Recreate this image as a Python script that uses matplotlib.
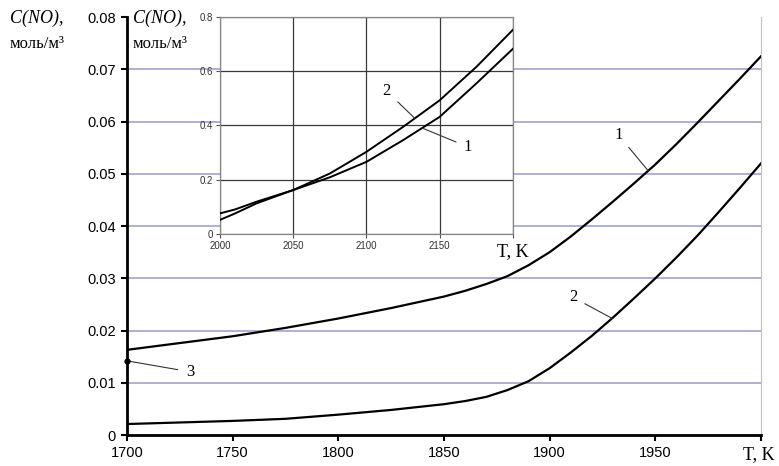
import numpy as np
import matplotlib.pyplot as plt

# main chart data, T in K, C(NO) in mol/m3
T_main = [1700, 1725, 1750, 1775, 1800, 1825, 1850, 1860, 1870, 1880, 1890,
          1900, 1910, 1920, 1930, 1940, 1950, 1960, 1970, 1980, 1990, 2000]
c1_main = [0.0163, 0.0176, 0.0189, 0.0205, 0.0223, 0.0243, 0.0265, 0.0276,
           0.0289, 0.0304, 0.0325, 0.0350, 0.0380, 0.0413, 0.0447, 0.0482,
           0.0518, 0.0557, 0.0598, 0.0640, 0.0682, 0.0725]
c2_main = [0.0021, 0.0024, 0.0027, 0.0031, 0.0039, 0.0048, 0.0059, 0.0065,
           0.0073, 0.0086, 0.0103, 0.0128, 0.0158, 0.0190, 0.0225, 0.0262,
           0.0300, 0.0340, 0.0382, 0.0427, 0.0473, 0.0520]
T3 = 1700
c3 = 0.0142

# inset data
T_ins = [2000, 2010, 2025, 2050, 2075, 2100, 2125, 2150, 2175, 2200]
c1_ins = [0.076, 0.090, 0.119, 0.162, 0.209, 0.266, 0.346, 0.432, 0.555, 0.683]
c2_ins = [0.052, 0.075, 0.113, 0.162, 0.223, 0.303, 0.395, 0.493, 0.616, 0.753]

xticks_main = [1700, 1750, 1800, 1850, 1900, 1950, 2000]
xlabels_main = ['1700', '1750', '1800', '1850', '1900', '1950', '']
yticks_main = [0, 0.01, 0.02, 0.03, 0.04, 0.05, 0.06, 0.07, 0.08]
ylabels_main = ['0', '0.01', '0.02', '0.03', '0.04', '0.05', '0.06', '0.07', '0.08']
xticks_ins = [2000, 2050, 2100, 2150, 2200]
xlabels_ins = ['2000', '2050', '2100', '2150', '']
yticks_ins = [0, 0.2, 0.4, 0.6, 0.8]
ylabels_ins = ['0', '0.2', '0.4', '0.6', '0.8']

serif = 'Liberation Serif'
sans = 'Liberation Sans'

fig = plt.figure(figsize=(7.79, 4.66), dpi=100)
ax = fig.add_axes([0.163, 0.0665, 0.814, 0.897])

for y in yticks_main[1:-1]:
    ax.axhline(y, color='#9a9ac4', lw=1.1, zorder=1)

ax.plot(T_main, c1_main, color='black', lw=1.6, zorder=3)
ax.plot(T_main, c2_main, color='black', lw=1.6, zorder=3)
ax.plot([T3], [c3], 'o', color='black', ms=3.5, zorder=4, clip_on=False)

ax.set_xlim(1700, 2000)
ax.set_ylim(0, 0.08)
ax.set_xticks(xticks_main)
ax.set_xticklabels(xlabels_main, fontfamily=sans, fontsize=10.5)
ax.set_yticks(yticks_main)
ax.set_yticklabels(ylabels_main, fontfamily=sans, fontsize=10.5)
ax.tick_params(direction='out', length=4, width=1.5, pad=4)
ax.spines['top'].set_visible(False)
ax.spines['right'].set_color('#c0c0c0')
ax.spines['left'].set_linewidth(2)
ax.spines['bottom'].set_linewidth(2)

lab = dict(fontfamily=serif, fontsize=12, textcoords='offset pixels',
           ha='center', va='center',
           arrowprops=dict(arrowstyle='-', color='#333333', lw=0.8,
                           shrinkA=4, shrinkB=0))
T1p = 1946.6
ax.annotate('1', xy=(T1p, np.interp(T1p, T_main, c1_main)), xytext=(-30, 36), **lab)
T2p = 1929.5
ax.annotate('2', xy=(T2p, np.interp(T2p, T_main, c2_main)), xytext=(-39, 21), **lab)
ax.annotate('3', xy=(T3, c3), xytext=(63, -11), **lab)

# inset
ins = fig.add_axes([0.2824, 0.4979, 0.3761, 0.4656])
ins.set_facecolor('white')
ins.plot(T_ins, c1_ins, color='black', lw=1.4, zorder=3)
ins.plot(T_ins, c2_ins, color='black', lw=1.4, zorder=3)
ins.set_xlim(2000, 2200)
ins.set_ylim(0, 0.8)
ins.set_xticks(xticks_ins)
ins.set_xticklabels(xlabels_ins, fontfamily=sans, fontsize=7, color='#333333')
ins.set_yticks(yticks_ins)
ins.set_yticklabels(ylabels_ins, fontfamily=sans, fontsize=7, color='#333333')
ins.grid(True, color='#3a3a3a', lw=0.9)
ins.tick_params(direction='out', length=3, width=0.8, color='#555555', pad=2)
for s in ins.spines.values():
    s.set_color('#888888')
    s.set_linewidth(0.9)

Ti2 = 2133
ins.annotate('2', xy=(Ti2, np.interp(Ti2, T_ins, c2_ins)), xytext=(-28, 27), **lab)
Ti1 = 2138
ins.annotate('1', xy=(Ti1, np.interp(Ti1, T_ins, c1_ins)), xytext=(46, -19), **lab)

# axis titles
fig.text(10 / 779, 1 - 18 / 466, 'C(NO),', fontfamily=serif, fontstyle='italic',
         fontsize=13, va='center', ha='left')
fig.text(10 / 779, 1 - 44 / 466, 'моль/м³', fontfamily=serif,
         fontsize=12, va='center', ha='left')
fig.text(133 / 779, 1 - 18 / 466, 'C(NO),', fontfamily=serif, fontstyle='italic',
         fontsize=13, va='center', ha='left')
fig.text(133 / 779, 1 - 44 / 466, 'моль/м³', fontfamily=serif,
         fontsize=12, va='center', ha='left')
fig.text(743 / 779, 1 - 455 / 466, 'T, K', fontfamily=serif,
         fontsize=13, va='center', ha='left')
fig.text(497 / 779, 1 - 252 / 466, 'T, K', fontfamily=serif,
         fontsize=13, va='center', ha='left')

fig.savefig('out.png', dpi=100)
